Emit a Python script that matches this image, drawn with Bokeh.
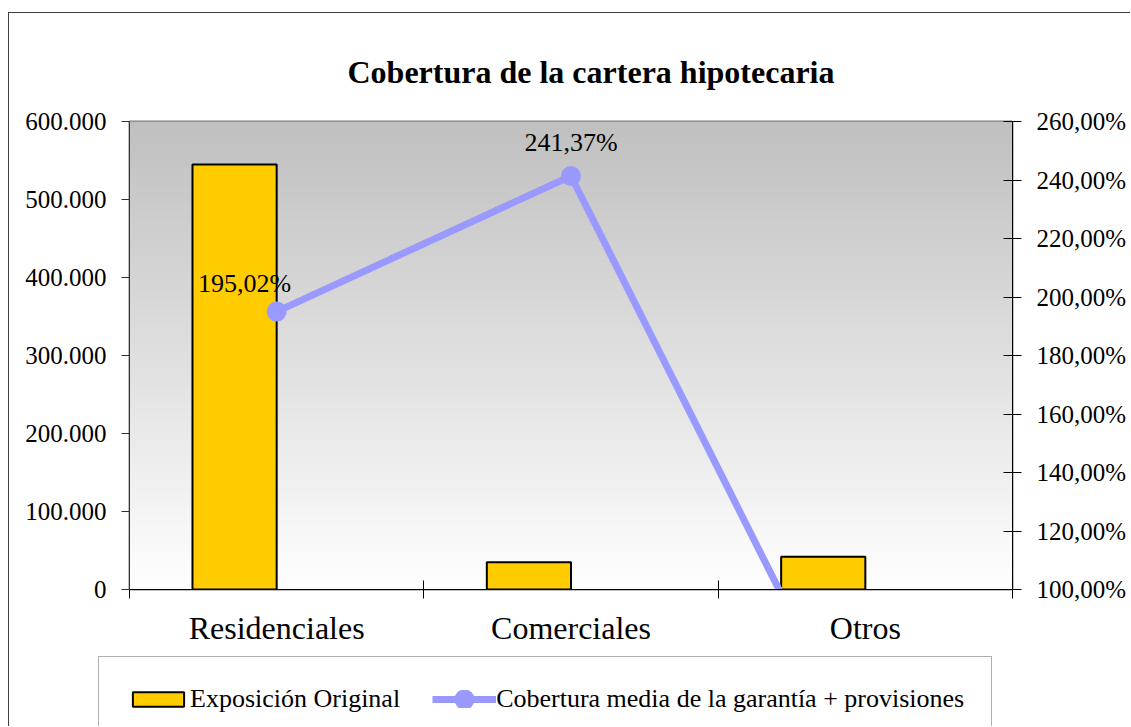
import numpy as np
from bokeh.plotting import figure
from bokeh.models import Range1d, LinearAxis, FixedTicker, Legend, LegendItem
from bokeh.embed import file_html
from bokeh.resources import INLINE
from bokeh.core.properties import value

# ---------------- data ----------------
categories = ["Residenciales", "Comerciales", "Otros"]
exposicion = [545000, 35000, 42000]
cobertura = [195.02, 241.37, 41.3]
left_ticks = [0, 100000, 200000, 300000, 400000, 500000, 600000]
right_ticks = [100, 120, 140, 160, 180, 200, 220, 240, 260]
title_text = "Cobertura de la cartera hipotecaria"
series_names = ["Exposición Original", "Cobertura media de la garantía + provisiones"]


def fmt_thousands(v):
    return f"{v:,.0f}".replace(",", ".")


def fmt_pct(v):
    return f"{v:.2f}".replace(".", ",") + "%"


# ---------------- style ----------------
FONT = "Liberation Serif"
BAR_COLOR = "#FFCC00"
LINE_COLOR = "#9999FF"
bar_width = 0.286
label_dx = [-32, 0, 0]
label_dy = [-28, -33, -33]

W = 1122
H_TOP = 637
H_LEG = 77

p = figure(width=W, height=H_TOP, output_backend="svg", toolbar_location=None,
           x_range=Range1d(0, len(categories)),
           y_range=Range1d(left_ticks[0], left_ticks[-1]),
           min_border_left=120, min_border_right=119,
           min_border_top=108, min_border_bottom=H_TOP - 108 - 468,
           background_fill_color="white", border_fill_color="white")
p.styles = {"border-top": "1px solid #404040", "border-left": "1px solid #404040",
            "margin-left": "8px", "margin-top": "12px"}
p.outline_line_color = "#808080"
p.outline_line_width = 2

# title
p.title.text = title_text
p.title.text_font = FONT
p.title.text_font_size = "32px"
p.title.text_font_style = "bold"
p.title.text_color = "black"
p.title.align = "left"
p.title.offset = 218
p.title.standoff = 64

# gradient background of the plot area
n = 468
g = np.linspace(255, 192, n).astype(np.uint8)
img = np.empty((n, 1), dtype=np.uint32)
view = img.view(dtype=np.uint8).reshape((n, 1, 4))
view[:, 0, 0] = g
view[:, 0, 1] = g
view[:, 0, 2] = g
view[:, 0, 3] = 255
xr, yr = p.x_range, p.y_range
p.image_rgba(image=[img], x=xr.start, y=yr.start, dw=xr.end - xr.start, dh=yr.end - yr.start)

# gridlines
p.xgrid.visible = False
p.ygrid.ticker = FixedTicker(ticks=left_ticks)
p.ygrid.grid_line_color = "#000000"
p.ygrid.grid_line_width = 1

# bars
centers = np.arange(len(categories)) + 0.5
bar_style = dict(fill_color=BAR_COLOR, line_color="black", line_width=2)
p.vbar(x=centers - bar_width / 2, top=exposicion, width=bar_width, bottom=0, **bar_style)

# secondary axis: line with round markers (small marker + wide outline so the
# legend swatch shows the same dot size)
p.extra_y_ranges = {"pct": Range1d(right_ticks[0], right_ticks[-1])}
line_style = dict(line_color=LINE_COLOR, line_width=7)
pt_style = dict(size=7, line_width=13, fill_color=LINE_COLOR, line_color=LINE_COLOR)
p.line(centers, cobertura, y_range_name="pct", **line_style)
p.scatter(centers, cobertura, y_range_name="pct", **pt_style)

# data labels (only for points inside the axis range)
vis = [i for i, v in enumerate(cobertura) if right_ticks[0] <= v <= right_ticks[-1]]
p.text(x=[centers[i] for i in vis], y=[cobertura[i] for i in vis],
       text=[fmt_pct(cobertura[i]) for i in vis],
       x_offset=[label_dx[i] for i in vis], y_offset=[label_dy[i] for i in vis],
       text_align="center", text_baseline="alphabetic",
       text_font=value(FONT), text_font_size="26px", text_color="black",
       y_range_name="pct")

# left axis
ya = p.yaxis[0]
ya.ticker = FixedTicker(ticks=left_ticks)
ya.major_label_overrides = {t: fmt_thousands(t) for t in left_ticks}
ya.major_label_text_font = FONT
ya.major_label_text_font_size = "25px"
ya.major_label_text_color = "black"
ya.axis_line_color = "#333333"
ya.major_tick_line_color = "#333333"
ya.major_tick_in = 0
ya.major_tick_out = 8
ya.minor_tick_line_color = None
ya.major_label_standoff = 15

# right axis
ra = LinearAxis(y_range_name="pct", ticker=FixedTicker(ticks=right_ticks))
ra.major_label_overrides = {t: fmt_pct(t) for t in right_ticks}
ra.major_label_text_font = FONT
ra.major_label_text_font_size = "25px"
ra.major_label_text_color = "black"
ra.axis_line_color = "black"
ra.major_tick_line_color = "black"
ra.major_tick_in = 9
ra.major_tick_out = 9
ra.minor_tick_line_color = None
ra.major_label_standoff = 15
p.add_layout(ra, "right")

# category axis: labels at centers, ticks at band boundaries
xa = p.xaxis[0]
xa.ticker = FixedTicker(ticks=list(centers), minor_ticks=list(range(len(categories) + 1)))
xa.major_label_overrides = {float(c): name for c, name in zip(centers, categories)}
xa.major_label_text_font = FONT
xa.major_label_text_font_size = "32px"
xa.major_label_text_color = "black"
xa.axis_line_color = "black"
xa.major_tick_line_color = None
xa.major_tick_in = 0
xa.major_tick_out = 0
xa.minor_tick_line_color = "black"
xa.minor_tick_in = 9
xa.minor_tick_out = 9
xa.major_label_standoff = 11

# ---------------- legend strip (separate root, same series styles) ----------------
# its ranges lie far away from the series values, so only the legend swatches show
lg = figure(width=W, height=H_LEG, output_backend="svg", toolbar_location=None,
            x_range=Range1d(-30, -27), y_range=Range1d(1e9, 2e9),
            x_axis_type=None, y_axis_type=None,
            min_border=0, background_fill_color="white", border_fill_color="white")
lg.styles = {"border-left": "1px solid #404040", "margin-left": "8px"}
lg.outline_line_color = None
lg.grid.visible = False
s_bar = lg.vbar(x=centers, top=exposicion, width=bar_width, bottom=0, **bar_style)
s_line = lg.line(centers, cobertura, **line_style)
s_pts = lg.scatter(centers, cobertura, **pt_style)

legend = Legend(items=[LegendItem(label=series_names[0], renderers=[s_bar]),
                       LegendItem(label=series_names[1], renderers=[s_line, s_pts])],
                location=(89, -16), orientation="horizontal",
                padding=27, margin=0, spacing=32, glyph_width=64, glyph_height=18,
                label_standoff=0,
                border_line_color="#606060", border_line_width=1,
                background_fill_color="white", background_fill_alpha=1,
                label_text_font=FONT, label_text_font_size="26px", label_text_color="black")
lg.add_layout(legend)

open("out.html", "w").write(file_html([p, lg], INLINE))
